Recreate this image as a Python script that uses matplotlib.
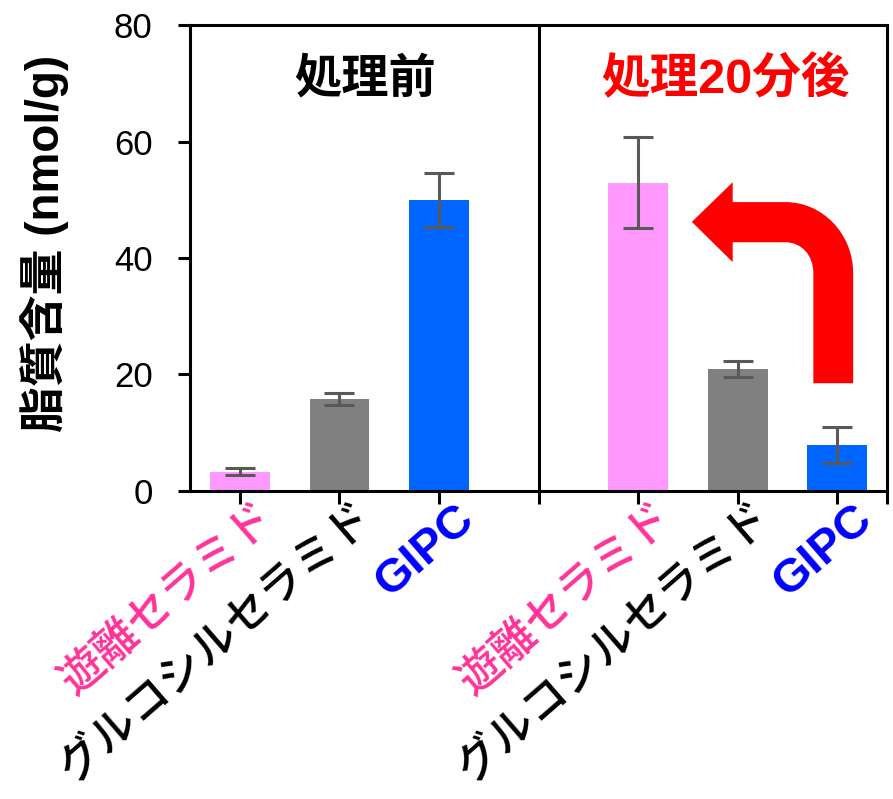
import matplotlib
matplotlib.use('Agg')
import matplotlib.pyplot as plt
import matplotlib.transforms as mtransforms
from matplotlib.path import Path
from matplotlib.patches import PathPatch
import numpy as np

plt.rcParams['font.family'] = ['Liberation Sans', 'Noto Sans CJK JP', 'DejaVu Sans']

# 脂質量 (nmol/g): 処理前 / 処理20分後
categories = ['遊離セラミド', 'グルコシルセラミド', 'GIPC']
before = [3.3, 15.8, 50.0]
before_err = [0.6, 1.0, 4.6]
after = [52.9, 21.0, 7.9]
after_err = [7.8, 1.35, 3.1]

bar_colors = ['#FF99FF', '#808080', '#0066FF']
label_colors = ['#FF3399', '#000000', '#0000FF']

fig = plt.figure(figsize=(8.93, 7.99), dpi=100)
ax = fig.add_axes([0.2128, 0.3855, 0.7805, 0.5832])

x_before = np.arange(3)
x_after = np.arange(3) + 4
ax.bar(x_before, before, width=0.6, color=bar_colors, zorder=2)
ax.bar(x_after, after, width=0.6, color=bar_colors, zorder=2)
ax.errorbar(x_before, before, yerr=before_err, fmt='none', ecolor='#595959',
            elinewidth=2.2, capsize=11, capthick=2.2, zorder=3)
ax.errorbar(x_after, after, yerr=after_err, fmt='none', ecolor='#595959',
            elinewidth=2.2, capsize=11, capthick=2.2, zorder=3)

# 前後の仕切り線
ax.axvline(3, color='black', lw=2.2, zorder=1)

ax.set_xlim(-0.5, 6.5)
ax.set_ylim(0, 80)
ax.set_yticks([0, 20, 40, 60, 80])
ax.tick_params(axis='y', labelsize=25, length=9, width=2.2, pad=18)

xt = [0, 1, 2, 3, 4, 5, 6, 6.5]
xl = categories + [''] + categories + ['']
ax.set_xticks(xt)
ax.set_xticklabels(xl, rotation=41, ha='right', rotation_mode='anchor')
ax.tick_params(axis='x', length=9, width=2.2, pad=2)
cols = label_colors + ['k'] + label_colors + ['k']
shift = mtransforms.ScaledTranslation(0.15, 0.10, fig.dpi_scale_trans)
for lab, c, name in zip(ax.get_xticklabels(), cols, xl):
    lab.set_color(c)
    lab.set_transform(lab.get_transform() + shift)
    if name == 'GIPC':
        lab.set_fontsize(34)
        lab.set_fontweight('bold')
    else:
        lab.set_fontsize(32)
        lab.set_fontweight('medium')

for s in ax.spines.values():
    s.set_linewidth(2.2)

ax.set_ylabel('脂質含量 (nmol/g)', fontsize=33, fontweight='bold')
ax.yaxis.set_label_coords(-0.174, 0.532)

ax.text(1.26, 70.5, '処理前', fontsize=34, fontweight='bold', color='black',
        ha='center', va='center')
ax.text(4.88, 70.5, '処理20分後', fontsize=35, fontweight='bold', color='#FF0000',
        ha='center', va='center')

# GIPC からセラミドへ向かう曲がり矢印
verts = [
    (5.76, 18.5), (5.76, 37.4),
    (5.76, 40.5), (5.64, 42.7), (5.48, 42.7),
    (4.95, 42.7), (4.95, 39.3), (4.54, 46.2), (4.95, 53.0), (4.95, 49.6),
    (5.48, 49.6),
    (5.85, 49.6), (6.16, 44.2), (6.16, 37.4),
    (6.16, 18.5), (5.76, 18.5),
]
codes = [Path.MOVETO, Path.LINETO,
         Path.CURVE4, Path.CURVE4, Path.CURVE4,
         Path.LINETO, Path.LINETO, Path.LINETO, Path.LINETO, Path.LINETO,
         Path.LINETO,
         Path.CURVE4, Path.CURVE4, Path.CURVE4,
         Path.LINETO, Path.CLOSEPOLY]
ax.add_patch(PathPatch(Path(verts, codes), facecolor='#FF0000', edgecolor='none', zorder=4))

fig.savefig('out.png', dpi=100)
